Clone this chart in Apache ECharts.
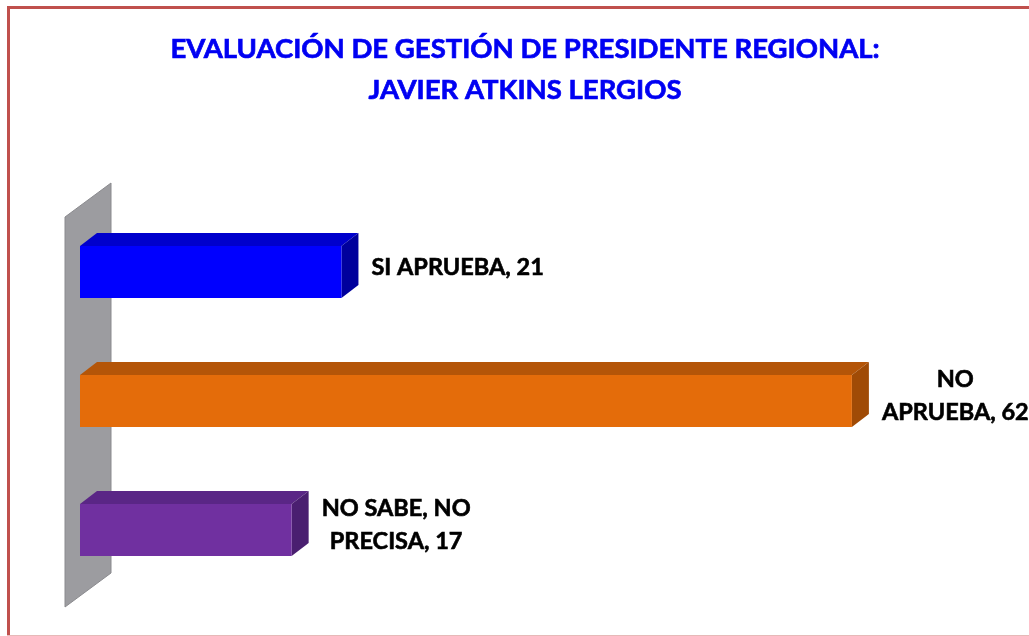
<!DOCTYPE html>
<html>
<head>
<meta charset="utf-8">
<script src="https://cdn.jsdelivr.net/npm/echarts@6/dist/echarts.min.js"></script>
<style>
  html, body { margin: 0; padding: 0; background: #fff; overflow: hidden; }
  #chart { width: 1029px; height: 636px; }
</style>
</head>
<body>
<div id="chart"></div>
<script>
const categories = ['SI APRUEBA', 'NO\nAPRUEBA', 'NO SABE, NO\nPRECISA']
const values = [21, 62, 17]
const frontColors = ['#0000ff', '#e46c0a', '#7030a0']
const topColors = ['#0000cc', '#b45508', '#5a2686']
const sideColors = ['#00009c', '#a04b06', '#4a1f70']

const labelFont = 'bold 23.5px Lato'
const depth = [17, -13]

const measure = document.createElement('canvas').getContext('2d')
function textWidth(str) {
  measure.font = labelFont
  return Math.max(...str.split('\n').map(s => measure.measureText(s).width))
}

const chart = echarts.init(document.getElementById('chart'), null, { renderer: 'canvas' })

const option = {
  animation: false,
  title: {
    text: 'EVALUACIÓN DE GESTIÓN DE PRESIDENTE REGIONAL:\nJAVIER ATKINS LERGIOS',
    left: 520,
    top: 24,
    textAlign: 'center',
    textStyle: {
      fontFamily: 'Lato',
      fontWeight: 'bold',
      fontSize: 27.5,
      lineHeight: 40.5,
      color: '#0000f2',
      textBorderColor: '#0000f2',
      textBorderWidth: 0.7
    }
  },
  grid: {
    left: 80,
    right: 77.5,
    top: 207.5,
    height: 387
  },
  xAxis: {
    type: 'value',
    min: 0,
    max: 70,
    show: false
  },
  yAxis: {
    type: 'category',
    data: categories,
    inverse: true,
    show: false
  },
  series: [{
    type: 'custom',
    encode: { x: 0, y: 1 },
    data: values.map((v, i) => [v, i]),
    renderItem(params, api) {
      const i = params.dataIndex
      const start = api.coord([0, api.value(1)])
      const end = api.coord([api.value(0), api.value(1)])
      const h = api.size([0, 1])[1] * 0.403
      const x0 = start[0]
      const x1 = end[0]
      const y0 = end[1] - h / 2
      const y1 = end[1] + h / 2
      const [dx, dy] = depth
      const label = categories[i] + ', ' + values[i]
      const w = textWidth(label)
      return {
        type: 'group',
        children: [
          {
            type: 'polygon',
            shape: { points: [[x0, y0], [x0 + dx, y0 + dy], [x1 + dx, y0 + dy], [x1, y0]] },
            style: { fill: topColors[i] }
          },
          {
            type: 'polygon',
            shape: { points: [[x1, y0], [x1 + dx, y0 + dy], [x1 + dx, y1 + dy], [x1, y1]] },
            style: { fill: sideColors[i] }
          },
          {
            type: 'rect',
            shape: { x: x0, y: y0, width: x1 - x0, height: h },
            style: { fill: frontColors[i] }
          },
          {
            type: 'text',
            x: x1 + dx + 13 + w / 2,
            y: end[1] - 5,
            style: {
              text: label,
              font: labelFont,
              fill: '#000',
              stroke: '#000',
              lineWidth: 0.6,
              align: 'center',
              verticalAlign: 'middle',
              lineHeight: 33
            }
          }
        ]
      }
    }
  }]
}

chart.setOption(option)

// frame (top, left, bottom only) and gray back wall placed from the axis scales
const zeroX = chart.convertToPixel({ xAxisIndex: 0 }, 0)
const topY = chart.convertToPixel({ yAxisIndex: 0 }, 0) - 55
const botY = chart.convertToPixel({ yAxisIndex: 0 }, 2) + 77
const frame = { stroke: '#c0504d', lineWidth: 3 }
chart.setOption({
  graphic: [
    { type: 'line', shape: { x1: 7, y1: 7.5, x2: 1029, y2: 7.5 }, style: frame },
    { type: 'line', shape: { x1: 8.5, y1: 6, x2: 8.5, y2: 636 }, style: frame },
    { type: 'line', shape: { x1: 7, y1: 635.5, x2: 1029, y2: 635.5 }, style: { stroke: '#e6b9b8', lineWidth: 1 } },
    {
      type: 'polygon',
      shape: {
        points: [
          [zeroX - 15, topY],
          [zeroX + 31, topY - 34],
          [zeroX + 31, botY - 34],
          [zeroX - 15, botY]
        ]
      },
      style: { fill: '#9c9ca0', stroke: '#8a8a8e', lineWidth: 1 },
      z: -1
    }
  ]
})
</script>
</body>
</html>
